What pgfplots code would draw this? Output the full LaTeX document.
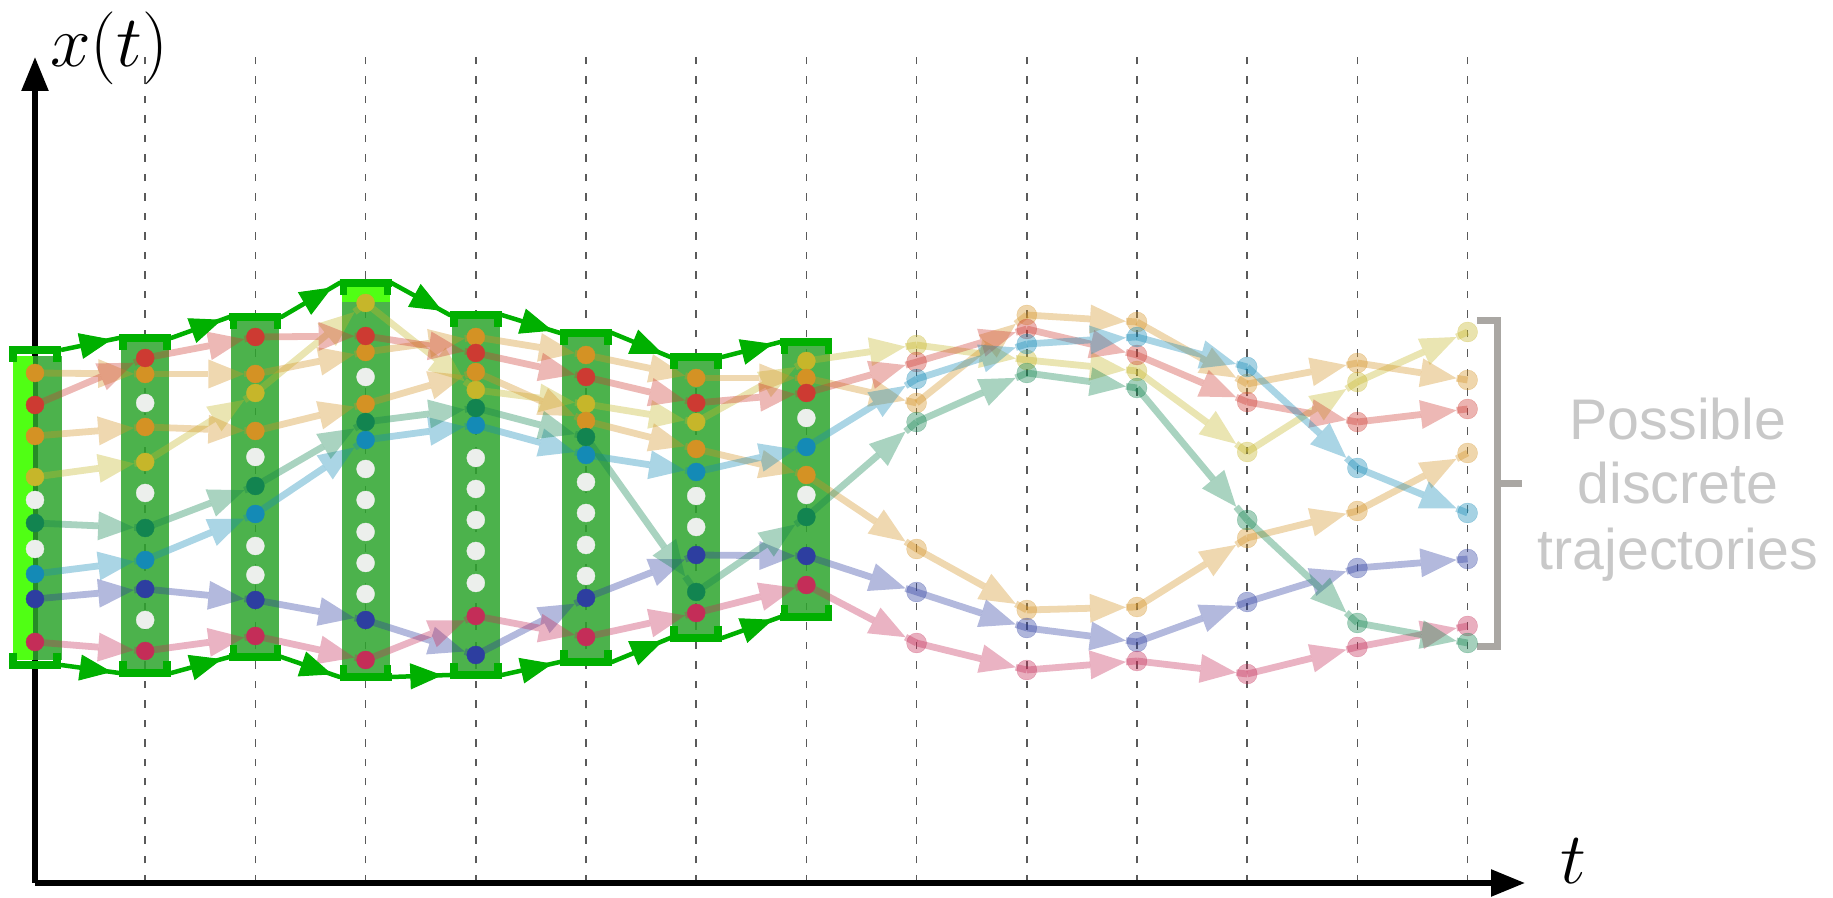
\documentclass[border=0pt]{standalone}
\usepackage{fontspec}
\usepackage{pgfplots}
\usepackage{pgfplotstable}
\pgfplotsset{compat=1.18}
\usetikzlibrary{arrows.meta}
\newfontfamily\labelfont{Liberation Sans}

\definecolor{cA}{RGB}{198,182,42}
\definecolor{cB}{RGB}{212,146,36}
\definecolor{cC}{RGB}{205,58,50}
\definecolor{cE}{RGB}{20,138,182}
\definecolor{cF}{RGB}{45,62,160}
\definecolor{cG}{RGB}{196,45,88}
\definecolor{cH}{RGB}{18,132,80}
\definecolor{boxgreen}{RGB}{45,165,45}
\definecolor{limegreen}{RGB}{80,255,20}
\definecolor{envgreen}{RGB}{0,176,0}
\definecolor{dotwhite}{RGB}{236,239,236}
\definecolor{gridgray}{RGB}{90,90,90}
\definecolor{brgray}{RGB}{170,167,163}
\definecolor{txtgray}{RGB}{200,200,200}

% trajectories: t, y, next y
\pgfplotstableread{
t y yn
0 421 436
1 436 505
2 505 595
3 595 508
4 508 494
5 494 476
6 476 537
7 537 553
8 553 538
9 538 527
10 527 446
11 446 516
12 516 566
13 566 566
}\trA
\pgfplotstableread{
t y yn
0 525 524
1 524 524
2 524 546
3 546 561
4 561 543
5 543 520
6 520 520
7 520 495
8 495 583
9 583 576
10 576 514
11 514 535
12 535 518
13 518 518
}\trB
\pgfplotstableread{
t y yn
0 493 540
1 540 561
2 561 562
3 562 545
4 545 521
5 521 495
6 495 505
7 505 536
8 536 569
9 569 543
10 543 496
11 496 476
12 476 489
13 489 489
}\trC
\pgfplotstableread{
t y yn
0 462 471
1 471 467
2 467 494
3 494 526
4 526 477
5 477 449
6 449 423
7 423 349
8 349 288
9 288 291
10 291 360
11 360 387
12 387 445
13 445 445
}\trD
\pgfplotstableread{
t y yn
0 324 338
1 338 384
2 384 458
3 458 473
4 473 443
5 443 426
6 426 451
7 451 519
8 519 554
9 554 561
10 561 531
11 531 430
12 430 385
13 385 385
}\trE
\pgfplotstableread{
t y yn
0 299 309
1 309 298
2 298 278
3 278 243
4 243 300
5 300 343
6 343 342
7 342 306
8 306 270
9 270 256
10 256 296
11 296 330
12 330 339
13 339 339
}\trF
\pgfplotstableread{
t y yn
0 256 247
1 247 262
2 262 238
3 238 282
4 282 261
5 261 285
6 285 313
7 313 255
8 255 228
9 228 237
10 237 224
11 224 251
12 251 272
13 272 272
}\trG
\pgfplotstableread{
t y yn
0 375 370
1 370 412
2 412 476
3 476 490
4 490 461
5 461 306
6 306 381
7 381 476
8 476 525
9 525 510
10 510 378
11 378 275
12 275 255
13 255 255
}\trH

% grid points not on a trajectory
\pgfplotstableread{
t y
0 398
0 349
1 495
1 405
1 278
2 441
2 352
2 323
3 521
3 429
3 398
3 366
3 335
3 304
4 440
4 409
4 378
4 347
4 315
5 416
5 385
5 353
5 322
6 402
6 371
7 480
7 403
}\whites

% envelope (top / bottom of each reachable box)
\pgfplotstableread{
k top tn bot bn
0 548 560 233 225
1 560 581 225 241
2 581 615 241 221
3 615 583 221 223
4 583 565 223 236
5 565 541 236 260
6 541 556 260 281
7 556 556 281 281
}\env

\newcommand{\trajline}[2]{%
  \addplot[#2, line width=0.068cm, opacity=0.36, mark=none,
    quiver={u=0.9, v=0.9*(\thisrow{yn}-\thisrow{y})},
    -{Triangle[length=0.36cm,width=0.29cm,line width=0pt]},
    skip coords between index={13}{14}]
    table[x=t, y=y]{#1};
  \addplot[#2, line width=0.068cm, opacity=0.36, mark=none,
    quiver={u=0.1, v=0.1*(\thisrow{yn}-\thisrow{y})},
    skip coords between index={13}{14}]
    table[x expr=\thisrow{t}+0.9, y expr=\thisrow{y}+0.9*(\thisrow{yn}-\thisrow{y})]{#1};
}
\newcommand{\trajdots}[2]{%
  \addplot[only marks, mark=*, color=#2, line width=0.1pt, mark size=0.09cm,
    restrict x to domain=-1:7.5] table[x=t,y=y]{#1};
  \addplot[only marks, mark=*, color=#2, line width=0.1pt, mark size=0.1cm, opacity=0.38,
    restrict x to domain=7.5:14] table[x=t,y=y]{#1};
}

\begin{document}
\begin{tikzpicture}
\begin{axis}[
  width=14.90cm, height=8.26cm, scale only axis,
  xmin=0, xmax=13.521, ymin=15, ymax=841,
  clip=false,
  axis lines=left,
  axis line style={line width=0.055cm, -{Triangle[length=0.34cm,width=0.26cm]}},
  xtick={1,...,13}, xticklabels={}, ytick=\empty,
  xticklabel style={inner sep=0pt, outer sep=0pt},
  major tick length=0pt,
  xmajorgrids=true,
  major grid style={gridgray, line width=0.015cm, dash pattern=on 0.075cm off 0.12cm},
]
% invisible frame = picture size
\path (axis cs:-0.3176,0) rectangle (axis cs:16.316,898);

% reachable boxes
\addplot[draw=none, fill=limegreen] coordinates {(-0.2,238)(-0.02,238)(-0.02,542)(-0.2,542)};
\addplot[draw=none, fill=limegreen] coordinates {(2.782,596)(3.218,596)(3.218,613)(2.782,613)};
\addplot[draw=none, fill=boxgreen, fill opacity=0.85] coordinates {(-0.02,238)(0.245,238)(0.245,542)(-0.02,542)};
\addplot[draw=none, fill=boxgreen, fill opacity=0.85] coordinates {(0.782,228)(1.218,228)(1.218,557)(0.782,557)};
\addplot[draw=none, fill=boxgreen, fill opacity=0.85] coordinates {(1.782,244)(2.218,244)(2.218,578)(1.782,578)};
\addplot[draw=none, fill=boxgreen, fill opacity=0.85] coordinates {(2.782,222)(3.218,222)(3.218,596)(2.782,596)};
\addplot[draw=none, fill=boxgreen, fill opacity=0.85] coordinates {(3.782,226)(4.218,226)(4.218,580)(3.782,580)};
\addplot[draw=none, fill=boxgreen, fill opacity=0.85] coordinates {(4.782,239)(5.218,239)(5.218,562)(4.782,562)};
\addplot[draw=none, fill=boxgreen, fill opacity=0.85] coordinates {(5.782,263)(6.218,263)(6.218,538)(5.782,538)};
\addplot[draw=none, fill=boxgreen, fill opacity=0.85] coordinates {(6.782,284)(7.218,284)(7.218,553)(6.782,553)};

% trajectories
\trajline{\trA}{cA}
\trajline{\trB}{cB}
\trajline{\trC}{cC}
\trajline{\trD}{cB}
\trajline{\trE}{cE}
\trajline{\trF}{cF}
\trajline{\trG}{cG}
\trajline{\trH}{cH}

% envelope connectors
\addplot[envgreen, line width=0.045cm, mark=none] coordinates {(0.236,548)(0.764,560)(1.236,560)(1.764,581)(2.236,581)(2.764,615)(3.236,615)(3.764,583)(4.236,583)(4.764,565)(5.236,565)(5.764,541)(6.236,541)(6.764,556)};
\addplot[envgreen, line width=0.045cm, mark=none] coordinates {(0.236,233)(0.764,225)(1.236,225)(1.764,241)(2.236,241)(2.764,221)(3.236,221)(3.764,223)(4.236,223)(4.764,236)(5.236,236)(5.764,260)(6.236,260)(6.764,281)};
\addplot[envgreen, line width=0.01cm, mark=none,
  quiver={u=0.0264, v=0.05*(\thisrow{tn}-\thisrow{top})},
  -{Triangle[length=0.32cm,width=0.26cm]}, skip coords between index={7}{8}]
  table[x expr=\thisrow{k}+0.67, y expr=\thisrow{top}+0.82*(\thisrow{tn}-\thisrow{top})]{\env};
\addplot[envgreen, line width=0.01cm, mark=none,
  quiver={u=0.0264, v=0.05*(\thisrow{bn}-\thisrow{bot})},
  -{Triangle[length=0.32cm,width=0.26cm]}, skip coords between index={7}{8}]
  table[x expr=\thisrow{k}+0.67, y expr=\thisrow{bot}+0.82*(\thisrow{bn}-\thisrow{bot})]{\env};
% brackets
\addplot[envgreen, line width=0.075cm, mark=none, quiver={u=0.472, v=0}] table[x expr=\thisrow{k}-0.236, y=top]{\env};
\addplot[envgreen, line width=0.075cm, mark=none, quiver={u=0.472, v=0}] table[x expr=\thisrow{k}-0.236, y=bot]{\env};
\addplot[only marks, mark=|, mark size=0.06cm, mark options={envgreen, line width=0.075cm}] table[x expr=\thisrow{k}-0.2, y expr=\thisrow{top}-6]{\env};
\addplot[only marks, mark=|, mark size=0.06cm, mark options={envgreen, line width=0.075cm}] table[x expr=\thisrow{k}+0.2, y expr=\thisrow{top}-6]{\env};
\addplot[only marks, mark=|, mark size=0.06cm, mark options={envgreen, line width=0.075cm}] table[x expr=\thisrow{k}-0.2, y expr=\thisrow{bot}+6]{\env};
\addplot[only marks, mark=|, mark size=0.06cm, mark options={envgreen, line width=0.075cm}] table[x expr=\thisrow{k}+0.2, y expr=\thisrow{bot}+6]{\env};

% dots
\addplot[only marks, mark=*, color=dotwhite, line width=0.1pt, mark size=0.09cm] table[x=t,y=y]{\whites};
\trajdots{\trA}{cA}
\trajdots{\trB}{cB}
\trajdots{\trC}{cC}
\trajdots{\trD}{cB}
\trajdots{\trE}{cE}
\trajdots{\trF}{cF}
\trajdots{\trG}{cG}
\trajdots{\trH}{cH}

% annotation bracket
\addplot[brgray, line width=0.07cm, mark=none] coordinates {(13.085,577)(13.267,577)(13.267,251)(13.085,251)};
\addplot[brgray, line width=0.07cm, mark=none] coordinates {(13.267,414)(13.494,414)};
\node[anchor=base, font=\labelfont\fontsize{16.3}{18}\selectfont, text=txtgray, inner sep=0pt] at (axis cs:14.909,458) {Possible};
\node[anchor=base, font=\labelfont\fontsize{16.3}{18}\selectfont, text=txtgray, inner sep=0pt] at (axis cs:14.909,394) {discrete};
\node[anchor=base, font=\labelfont\fontsize{16.3}{18}\selectfont, text=txtgray, inner sep=0pt] at (axis cs:14.909,328) {trajectories};

% axis labels
\node[anchor=base west, inner sep=0pt, font=\fontsize{20.5}{24}\selectfont] at (axis cs:0.13,831) {$x(t)$};
\node[anchor=base west, inner sep=0pt, font=\fontsize{21}{24}\selectfont] at (axis cs:13.84,14) {$t$};
\end{axis}
\end{tikzpicture}
\end{document}
